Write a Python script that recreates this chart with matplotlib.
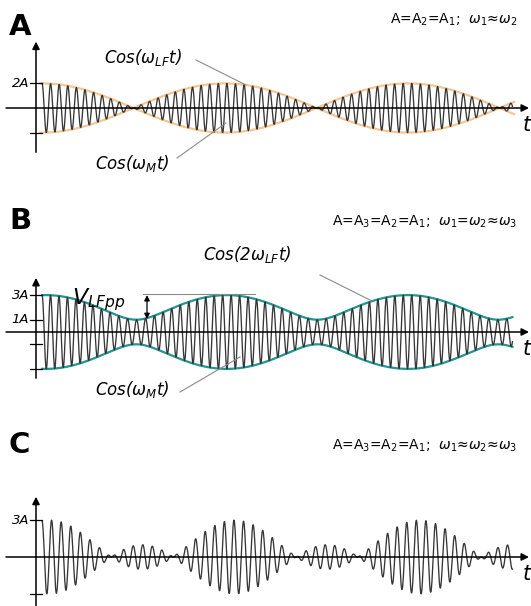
import numpy as np
import matplotlib.pyplot as plt
from matplotlib.lines import Line2D

# signal parameters (time in arbitrary units, amplitude in units of A)
freqs_a = [0.9765, 1.0235]
amps_a = [1.0, 1.0]
phases_a = [0.0, 0.0]

freqs_b = [1.0, 1.0, 1.0475]
amps_b = [1.0, 1.0, 1.0]
phases_b = [0.0, 0.0, -0.13]

freqs_c = [0.8495, 0.896, 0.9425]
amps_c = [1.0, 1.0, 1.0]
phases_c = [0.263, 0.0, -0.263]

t_end = 54.7
ticks_a = [2, -2]
ticks_b = [3, 1, -1, -3]
ticks_c = [3, -3]
ticklabels_a = ['2A', '']
ticklabels_b = ['3A', '1A', '', '']
ticklabels_c = ['3A', '']

W, H = 531, 606
X0, PX, PY = 42, 8.6, 12.3   # layout: pixel of t=0, px per time unit, px per A

SIG = '#363636'
ORANGE = '#f7c592'
TEAL = '#1f9690'
GREY = '#8a8a8a'

fig = plt.figure(figsize=(W / 100, H / 100), dpi=100)


def fp(x, y):
    return x / W, 1 - y / H


def tx(x):
    return (x - X0) / PX


def panel(top, bottom, zero, ytop, ybot):
    ax = fig.add_axes([0, 1 - bottom / H, 1, (bottom - top) / H])
    ax.set_xlim(tx(0), tx(W))
    ax.set_ylim(-(bottom - zero) / PY, (zero - top) / PY)
    ax.axis('off')
    ax.annotate('', xy=(tx(529), 0), xytext=(tx(6), 0),
                arrowprops=dict(arrowstyle='-|>', lw=1.1, color='k', mutation_scale=11,
                                shrinkA=0, shrinkB=0), annotation_clip=False)
    ax.annotate('', xy=(tx(36), ytop), xytext=(tx(36), ybot),
                arrowprops=dict(arrowstyle='-|>', lw=1.1, color='k', mutation_scale=11,
                                shrinkA=0, shrinkB=0), annotation_clip=False)
    ax.text(tx(523), -0.55, 't', fontsize=15, style='italic', ha='left', va='top')
    return ax


def signal(t, freqs, amps, phases):
    return sum(a * np.cos(2 * np.pi * f * t + p) for f, a, p in zip(freqs, amps, phases))


def envelope(t, freqs, amps, phases):
    z = sum(a * np.exp(1j * (2 * np.pi * (f - freqs[0]) * t + p))
            for f, a, p in zip(freqs, amps, phases))
    return np.abs(z)


def yticks(ax, vals, labels):
    for v, lab in zip(vals, labels):
        ax.plot([tx(30), tx(42)], [v, v], color='k', lw=0.9)
        if lab:
            ax.text(tx(29), v, lab, fontsize=9.5, style='italic', ha='right', va='center')


t = np.linspace(0, t_end, 6000)

# ---- A ----
ax = panel(30, 160, 108, 5.4, -3.6)
te = np.linspace(-0.2, t_end + 0.2, 800)
f_lf = (freqs_a[1] - freqs_a[0]) / 2
ax.plot(te, 2 * np.cos(2 * np.pi * f_lf * te), color=ORANGE, lw=1.6)
ax.plot(te, -2 * np.cos(2 * np.pi * f_lf * te), color=ORANGE, lw=1.6)
ax.plot(t, signal(t, freqs_a, amps_a, phases_a), color=SIG, lw=0.95)
yticks(ax, ticks_a, ticklabels_a)

# ---- B ----
ax = panel(250, 385, 332, 4.4, -3.75)
env_b = envelope(t, freqs_b, amps_b, phases_b)
ax.plot(t, env_b, color=TEAL, lw=1.6)
ax.plot(t, -env_b, color=TEAL, lw=1.6)
ax.plot(t, signal(t, freqs_b, amps_b, phases_b), color=SIG, lw=0.95)
yticks(ax, ticks_b, ticklabels_b)
ax.plot([tx(143), tx(255)], [3.05, 3.05], color=GREY, lw=0.8)
ax.annotate('', xy=(tx(147), 3.0), xytext=(tx(147), 1.05),
            arrowprops=dict(arrowstyle='<|-|>', lw=0.9, color='k', mutation_scale=8,
                            shrinkA=0, shrinkB=0))
ax.text(tx(72), 2.6, r'$V_{LFpp}$', fontsize=16, ha='left', va='center')

# ---- C ----
ax = panel(480, 606, 557, 4.9, -4.0)
ax.plot(t, signal(t, freqs_c, amps_c, phases_c), color=SIG, lw=0.95)
yticks(ax, ticks_c, ticklabels_c)

# panel letters and headers
for lab, y, w in [('A', 27, 'bold'), ('B', 221, 'semibold'), ('C', 445, 'semibold')]:
    fig.text(*fp(9, y), lab, fontsize=21, fontweight=w, ha='left', va='center')

fig.text(*fp(517, 20), r'A=A$_2$=A$_1$;  $\omega_1$≈$\omega_2$', fontsize=10, ha='right', va='center')
fig.text(*fp(517, 222), r'A=A$_3$=A$_2$=A$_1$;  $\omega_1$=$\omega_2$≈$\omega_3$', fontsize=10,
         ha='right', va='center')
fig.text(*fp(517, 446), r'A=A$_3$=A$_2$=A$_1$;  $\omega_1$≈$\omega_2$≈$\omega_3$', fontsize=10,
         ha='right', va='center')

# labels with leader lines
labels = [(r'Cos($\omega_{LF}$t)', 143, 58, (196, 60), (246, 85)),
          (r'Cos($\omega_M$t)', 132, 163, (177, 158), (226, 123)),
          (r'Cos(2$\omega_{LF}$t)', 247, 254, (320, 275), (372, 301)),
          (r'Cos($\omega_M$t)', 132, 390, (180, 392), (240, 357))]
for s, x, y, p1, p2 in labels:
    fig.text(*fp(x, y), s, fontsize=12, style='italic', ha='center', va='center')
    fig.add_artist(Line2D([p1[0] / W, p2[0] / W], [1 - p1[1] / H, 1 - p2[1] / H],
                          transform=fig.transFigure, color=GREY, lw=0.8))

fig.savefig('out.png', dpi=100)
